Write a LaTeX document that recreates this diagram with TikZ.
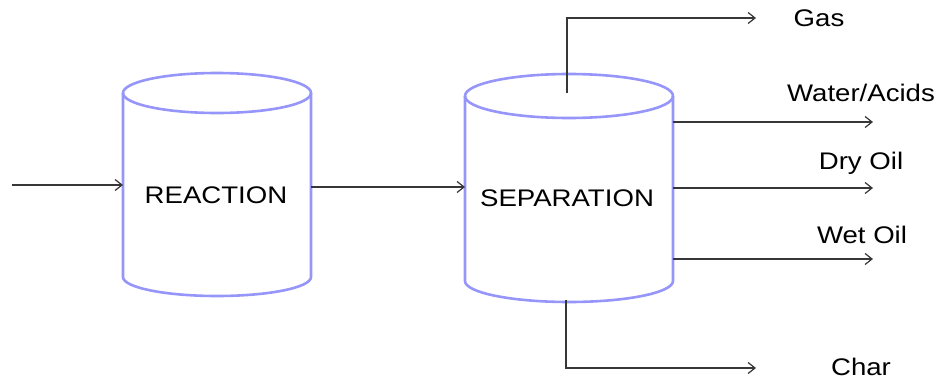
\documentclass[tikz,border=0pt]{standalone}
\usepackage{fontspec}
\setmainfont{Liberation Sans}
\usetikzlibrary{arrows.meta}
\definecolor{cyl}{RGB}{150,150,250}
\definecolor{ln}{RGB}{55,55,55}
\begin{document}
\begin{tikzpicture}[x=1pt,y=-1pt,
  cylline/.style={draw=cyl,line width=2.6pt},
  flow/.style={draw=ln,line width=1.2pt,-{Straight Barb[length=7pt,width=11pt]}},
  lbl/.style={font=\fontsize{24}{28}\selectfont,xscale=1.15,inner sep=0pt,text=black}]
\useasboundingbox (0,0) rectangle (949,383);
% reaction cylinder
\draw[cylline] (123,93) -- (123,277) arc[start angle=180,end angle=360,x radius=94pt,y radius=19pt] -- (311,93);
\draw[cylline] (217,93) ellipse [x radius=94pt,y radius=20pt];
% separation cylinder
\draw[cylline] (465,96) -- (465,281) arc[start angle=180,end angle=360,x radius=104pt,y radius=21pt] -- (673,96);
\draw[cylline] (569,96) ellipse [x radius=104pt,y radius=22pt];
% labels
\node[lbl] (rea) at (216,195) {REACTION};
\node[lbl] (sep) at (567,198) {SEPARATION};
\node[lbl] (gas) at (819,18) {Gas};
\node[lbl] (wat) at (861,93) {Water/Acids};
\node[lbl] (dry) at (861,163) {Dry Oil};
\node[lbl] (wet) at (862,235) {Wet Oil};
\node[lbl] (chr) at (861,367) {Char};
% connector ends
\coordinate (feed) at (12,185);
\coordinate (reaL) at (123,185);
\coordinate (reaR) at (311,187);
\coordinate (sepL) at (465,187);
\coordinate (sepT) at (567,93);
\coordinate (gasE) at (756,18);
\coordinate (watS) at (673,122);
\coordinate (watE) at (873,122);
\coordinate (dryS) at (673,188);
\coordinate (dryE) at (873,188);
\coordinate (wetS) at (673,259);
\coordinate (wetE) at (873,259);
\coordinate (sepB) at (566,300);
\coordinate (chrE) at (756,368);
% flows
\draw[flow] (feed) -- (reaL);
\draw[flow] (reaR) -- (sepL);
\draw[flow] (sepT) |- (gasE);
\draw[flow] (watS) -- (watE);
\draw[flow] (dryS) -- (dryE);
\draw[flow] (wetS) -- (wetE);
\draw[flow] (sepB) |- (chrE);
\end{tikzpicture}
\end{document}
